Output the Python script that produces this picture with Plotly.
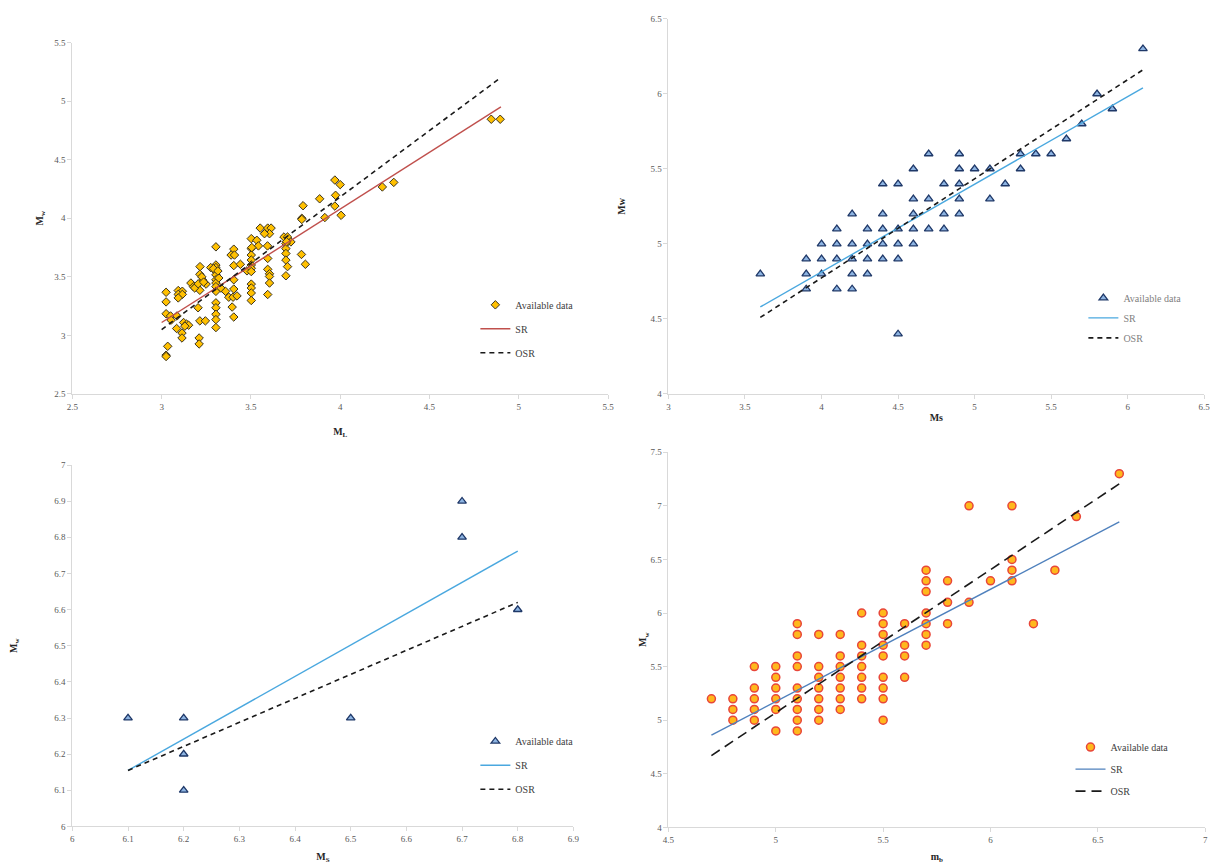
import plotly.graph_objects as go

# ---------------- Data ----------------
# Panel (a): Mw vs ML
ml_x = [3.025, 3.025, 3.025, 3.05, 3.086, 3.053, 3.084, 3.114, 3.114, 3.034, 3.025, 3.025,
        3.093, 3.116, 3.093, 3.116, 3.093, 3.123, 3.14, 3.151, 3.13,
        3.214, 3.245, 3.21, 3.21, 3.204,
        3.164, 3.178, 3.195, 3.215, 3.214, 3.23, 3.249, 3.214, 3.185, 3.205, 3.225, 3.235,
        3.304, 3.304, 3.304, 3.304, 3.304, 3.304, 3.304, 3.304, 3.304, 3.304, 3.304, 3.304, 3.304, 3.304,
        3.275, 3.332, 3.32, 3.358, 3.29, 3.315,
        3.404, 3.389, 3.408, 3.404, 3.441, 3.404, 3.404, 3.376, 3.4, 3.422, 3.395, 3.404, 3.478,
        3.502, 3.502, 3.502, 3.502, 3.502, 3.502, 3.502, 3.502, 3.502, 3.502, 3.502, 3.533, 3.542, 3.505,
        3.552, 3.594, 3.613, 3.604, 3.576,
        3.593, 3.594, 3.594, 3.604, 3.604, 3.604, 3.594,
        3.685, 3.705, 3.724, 3.696, 3.696, 3.696, 3.696, 3.705, 3.696, 3.7,
        3.783, 3.805, 3.792, 3.785, 3.785,
        3.885, 3.914, 3.97, 4.0, 3.974, 3.97, 4.005, 4.236, 4.30, 4.846, 4.896]
ml_y = [3.368, 3.286, 3.185, 3.166, 3.166, 3.13, 3.059, 3.02, 2.978, 2.907, 2.831, 2.82,
        3.383, 3.377, 3.35, 3.35, 3.32, 3.11, 3.096, 3.087, 3.079,
        3.124, 3.124, 2.978, 2.927, 3.236,
        3.447, 3.416, 3.419, 3.587, 3.522, 3.472, 3.438, 3.385, 3.405, 3.44, 3.5, 3.455,
        3.756, 3.601, 3.579, 3.545, 3.517, 3.475, 3.447, 3.416, 3.376, 3.278, 3.236, 3.18, 3.135, 3.067,
        3.579, 3.404, 3.49, 3.376, 3.57, 3.55,
        3.736, 3.686, 3.686, 3.596, 3.607, 3.475, 3.396, 3.326, 3.326, 3.337, 3.242, 3.157, 3.551,
        3.826, 3.741, 3.686, 3.643, 3.601, 3.573, 3.545, 3.438, 3.405, 3.362, 3.298, 3.812, 3.764, 3.75,
        3.916, 3.916, 3.916, 3.868, 3.868,
        3.764, 3.657, 3.564, 3.526, 3.503, 3.447, 3.349,
        3.84, 3.84, 3.798, 3.784, 3.741, 3.699, 3.643, 3.587, 3.509, 3.80,
        3.691, 3.607, 4.107, 4.0, 3.99,
        4.166, 4.006, 4.326, 4.287, 4.196, 4.104, 4.025, 4.267, 4.306, 4.845, 4.845]
ml_sr_x = [3.0, 4.9]
ml_sr_y = [3.11, 4.95]
ml_osr_x = [3.0, 4.89]
ml_osr_y = [3.05, 5.19]

# Panel (b): Mw vs Ms (lower range)
ms_x = [3.6, 3.9, 3.9, 3.9, 4.0, 4.0, 4.0, 4.1, 4.1, 4.1, 4.1, 4.2, 4.2, 4.2, 4.2, 4.2,
        4.3, 4.3, 4.3, 4.3, 4.4, 4.4, 4.4, 4.4, 4.4, 4.5, 4.5, 4.5, 4.5, 4.5,
        4.6, 4.6, 4.6, 4.6, 4.6, 4.7, 4.7, 4.7, 4.8, 4.8, 4.8,
        4.9, 4.9, 4.9, 4.9, 4.9, 5.0, 5.1, 5.1, 5.2, 5.3, 5.3, 5.4, 5.5, 5.6, 5.7, 5.8, 5.9, 6.1]
ms_y = [4.8, 4.7, 4.8, 4.9, 4.8, 4.9, 5.0, 4.7, 4.9, 5.0, 5.1, 4.7, 4.8, 4.9, 5.0, 5.2,
        4.8, 4.9, 5.0, 5.1, 4.9, 5.0, 5.1, 5.2, 5.4, 4.4, 4.9, 5.0, 5.1, 5.4,
        5.0, 5.1, 5.2, 5.3, 5.5, 5.1, 5.3, 5.6, 5.1, 5.2, 5.4,
        5.2, 5.3, 5.4, 5.5, 5.6, 5.5, 5.3, 5.5, 5.4, 5.5, 5.6, 5.6, 5.6, 5.7, 5.8, 6.0, 5.9, 6.3]
ms_sr_x = [3.6, 6.1]
ms_sr_y = [4.58, 6.04]
ms_osr_x = [3.6, 6.1]
ms_osr_y = [4.51, 6.16]

# Panel (c): Mw vs MS (upper range)
msh_x = [6.1, 6.2, 6.2, 6.2, 6.5, 6.7, 6.7, 6.8]
msh_y = [6.3, 6.3, 6.2, 6.1, 6.3, 6.9, 6.8, 6.6]
msh_sr_x = [6.1, 6.8]
msh_sr_y = [6.155, 6.762]
msh_osr_x = [6.1, 6.8]
msh_osr_y = [6.155, 6.62]

# Panel (d): Mw vs mb
mb_x = [4.7,
        4.8, 4.8, 4.8,
        4.9, 4.9, 4.9, 4.9, 4.9,
        5.0, 5.0, 5.0, 5.0, 5.0, 5.0,
        5.1, 5.1, 5.1, 5.1, 5.1, 5.1, 5.1, 5.1, 5.1,
        5.2, 5.2, 5.2, 5.2, 5.2, 5.2, 5.2,
        5.3, 5.3, 5.3, 5.3, 5.3, 5.3, 5.3,
        5.4, 5.4, 5.4, 5.4, 5.4, 5.4, 5.4,
        5.5, 5.5, 5.5, 5.5, 5.5, 5.5, 5.5, 5.5, 5.5,
        5.6, 5.6, 5.6, 5.6,
        5.7, 5.7, 5.7, 5.7, 5.7, 5.7, 5.7,
        5.8, 5.8, 5.8, 5.9, 5.9, 6.0, 6.1, 6.1, 6.1, 6.1, 6.2, 6.3, 6.4, 6.6]
mb_y = [5.2,
        5.2, 5.1, 5.0,
        5.5, 5.3, 5.2, 5.1, 5.0,
        5.5, 5.4, 5.3, 5.2, 5.1, 4.9,
        5.9, 5.8, 5.6, 5.5, 5.3, 5.2, 5.1, 5.0, 4.9,
        5.8, 5.5, 5.4, 5.3, 5.2, 5.1, 5.0,
        5.8, 5.6, 5.5, 5.4, 5.3, 5.2, 5.1,
        6.0, 5.7, 5.6, 5.5, 5.4, 5.3, 5.2,
        6.0, 5.9, 5.8, 5.7, 5.6, 5.4, 5.3, 5.2, 5.0,
        5.9, 5.7, 5.6, 5.4,
        6.4, 6.3, 6.2, 6.0, 5.9, 5.8, 5.7,
        6.3, 6.1, 5.9, 7.0, 6.1, 6.3, 7.0, 6.5, 6.4, 6.3, 5.9, 6.4, 6.9, 7.3]
mb_sr_x = [4.7, 6.6]
mb_sr_y = [4.86, 6.85]
mb_osr_x = [4.7, 6.6]
mb_osr_y = [4.67, 7.205]

legend_labels = ["Available data", "SR", "OSR"]

# ---------------- Figure ----------------
W, H = 1229, 864
SERIF = "Liberation Serif, Times New Roman, serif"

def dom_x(a, b):
    return [a / W, b / W]

def dom_y(top, bottom):
    return [1 - bottom / H, 1 - top / H]

fig = go.Figure()

panels = [
    dict(x=ml_x, y=ml_y, srx=ml_sr_x, sry=ml_sr_y, osrx=ml_osr_x, osry=ml_osr_y,
         marker=dict(symbol="diamond", size=6.5, color="#FFC000", line=dict(color="#3a3320", width=1)),
         srcolor="#C0504D", dash="5px,4px", ax="", leg="legend"),
    dict(x=ms_x, y=ms_y, srx=ms_sr_x, sry=ms_sr_y, osrx=ms_osr_x, osry=ms_osr_y,
         marker=dict(symbol="triangle-up", size=7.5, color="#8DB4E2", line=dict(color="#1F3868", width=1.3)),
         srcolor="#4AA8DF", dash="5px,4px", ax="2", leg="legend2"),
    dict(x=msh_x, y=msh_y, srx=msh_sr_x, sry=msh_sr_y, osrx=msh_osr_x, osry=msh_osr_y,
         marker=dict(symbol="triangle-up", size=7.5, color="#8DB4E2", line=dict(color="#1F3868", width=1.3)),
         srcolor="#4AA8DF", dash="5px,4px", ax="3", leg="legend3"),
    dict(x=mb_x, y=mb_y, srx=mb_sr_x, sry=mb_sr_y, osrx=mb_osr_x, osry=mb_osr_y,
         marker=dict(symbol="circle", size=8, color="#FFB81C", line=dict(color="#E8463A", width=1.5)),
         srcolor="#4F81BD", dash="10px,6px", ax="4", leg="legend4"),
]

for p in panels:
    xa = "x" + p["ax"]
    ya = "y" + p["ax"]
    fig.add_trace(go.Scatter(x=p["x"], y=p["y"], mode="markers", marker=p["marker"],
                             name=legend_labels[0], xaxis=xa, yaxis=ya, legend=p["leg"],
                             legendgroup=p["leg"] + "a"))
    fig.add_trace(go.Scatter(x=p["srx"], y=p["sry"], mode="lines",
                             line=dict(color=p["srcolor"], width=1.4),
                             name=legend_labels[1], xaxis=xa, yaxis=ya, legend=p["leg"],
                             legendgroup=p["leg"] + "b"))
    fig.add_trace(go.Scatter(x=p["osrx"], y=p["osry"], mode="lines",
                             line=dict(color="#1a1a1a", width=1.6, dash=p["dash"]),
                             name=legend_labels[2], xaxis=xa, yaxis=ya, legend=p["leg"],
                             legendgroup=p["leg"] + "c"))

tickfont = dict(family=SERIF, size=9, color="#595959")
titlefont = dict(family=SERIF, size=10, color="#262626")

def axis(domain, rng, dtick, title, anchor, standoff):
    return dict(domain=domain, range=rng, dtick=dtick, tick0=rng[0], anchor=anchor,
                showline=True, linecolor="#d9d9d9", linewidth=1, showgrid=False, zeroline=False,
                ticks="outside", ticklen=4, tickcolor="#d9d9d9", tickfont=tickfont,
                title=dict(text=title, font=titlefont, standoff=standoff), fixedrange=True)

def legend(xpx, ypx, color="#404040", gap=5):
    return dict(x=xpx / W, y=1 - ypx / H, xanchor="left", yanchor="top",
                bgcolor="rgba(0,0,0,0)", font=dict(family=SERIF, size=10, color=color),
                tracegroupgap=gap, traceorder="grouped", itemwidth=30)

fig.update_layout(
    width=W, height=H,
    margin=dict(l=0, r=0, t=0, b=0),
    paper_bgcolor="white", plot_bgcolor="white",
    showlegend=True,
    xaxis=axis(dom_x(67, 608), [2.5, 5.5], 0.5, "<b>M<sub>L</sub></b>", "y", 17),
    yaxis=axis(dom_y(38, 394), [2.5, 5.5], 0.5, "<b>M<sub>w</sub></b>", "x", 8),
    xaxis2=axis(dom_x(669, 1210), [3, 6.5], 0.5, "<b>Ms</b>", "y2", 3),
    yaxis2=axis(dom_y(14, 394), [4, 6.5], 0.5, "<b>Mw</b>", "x2", 22),
    xaxis3=axis(dom_x(67, 573), [6, 6.9], 0.1, "<b>M<sub>S</sub></b>", "y3", 12),
    yaxis3=axis(dom_y(466, 832), [6, 7], 0.1, "<b>M<sub>w</sub></b>", "x3", 34),
    xaxis4=axis(dom_x(669, 1211), [4.5, 7], 0.5, "<b>m<sub>b</sub></b>", "y4", 12),
    yaxis4=axis(dom_y(453, 833), [4, 7.5], 0.5, "<b>M<sub>w</sub></b>", "x4", 1),
    legend=legend(474, 289),
    legend2=legend(1088, 282, "#7f7f7f", gap=1),
    legend3=legend(474, 731),
    legend4=legend(1075, 737, gap=3),
)

fig.write_html("out.html")
